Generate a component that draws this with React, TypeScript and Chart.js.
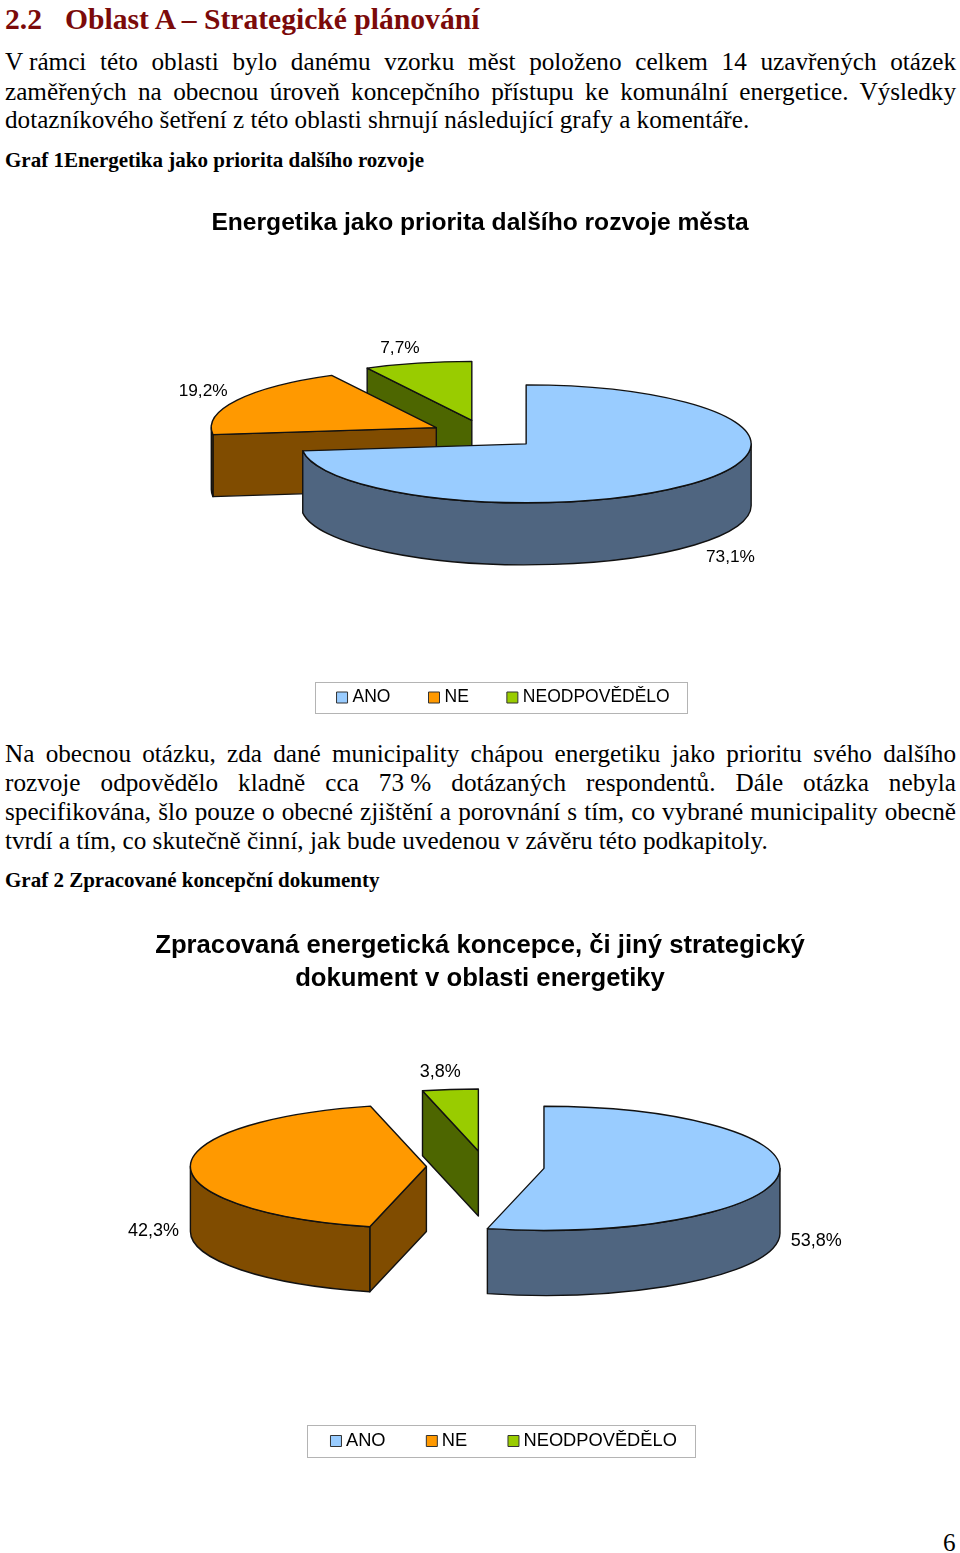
import { useEffect, useRef } from 'react';
import type { CSSProperties, ReactNode } from 'react';
import { Chart, registerables } from 'chart.js';

Chart.register(...registerables);

const categories = ['ANO', 'NE', 'NEODPOVĚDĚLO'];
const prioritaValues = [73.1, 19.2, 7.7];
const koncepceValues = [53.8, 42.3, 3.8];
const topColors = ['#99CCFF', '#FF9900', '#99CC00'];
const wallColors = ['#4F6580', '#804C00', '#4D6600'];

const SANS = '"Liberation Sans", Arial, sans-serif';
const SERIF = '"Liberation Serif", "Times New Roman", serif';

// fake 3D on top of a plain pie: slices are moved out, squashed and given walls
const pie3dPlugin = {
  id: 'pie3d',
  afterLayout(chart: any, _args: any, opts: any) {
    const legend = chart.legend;
    const { frame } = opts;
    const pad = legend.options.labels.padding;
    const h = legend.height;
    // keep the row on one line, only move its centre onto the frame
    const mid = frame.x + frame.w / 2 + opts.legendShift;
    legend.left = mid - chart.width / 2;
    legend.right = mid + chart.width / 2;
    legend.top = frame.y + frame.h / 2 - opts.legendFont / 2 - pad;
    legend.bottom = legend.top + h;
  },
  afterDatasetsUpdate(chart: any, _args: any, opts: any) {
    chart.getDatasetMeta(0).data.forEach((arc: any) => {
      const mid = (arc.startAngle + arc.endAngle) / 2;
      arc.x += Math.cos(mid) * opts.explode;
      arc.y += Math.sin(mid) * opts.explode;
    });
  },
  beforeDatasetsDraw(chart: any, _args: any, opts: any) {
    const ctx = chart.ctx;
    const arcs = chart.getDatasetMeta(0).data;
    const px = (arc: any) => arc.x - chart.width / 2 + opts.cx;
    const py = (arc: any) => (arc.y - chart.chartArea.top - chart.chartArea.height / 2) * opts.squash + opts.cy;

    ctx.save();
    ctx.lineWidth = opts.lineWidth;
    ctx.strokeStyle = opts.lineColor;
    ctx.lineJoin = 'round';
    // back to front, the side walls first
    for (let i = arcs.length - 1; i >= 0; i--) {
      const arc = arcs[i];
      const x = px(arc);
      const y = py(arc);
      const r = arc.outerRadius;
      const ry = r * opts.squash;
      ctx.fillStyle = wallColors[i];
      // only the cut that faces the viewer
      if (Math.sin(arc.startAngle + Math.PI / 2) < -0.001) {
        const ex = x + Math.cos(arc.startAngle) * r;
        const ey = y + Math.sin(arc.startAngle) * ry;
        ctx.beginPath();
        ctx.moveTo(x, y);
        ctx.lineTo(ex, ey);
        ctx.lineTo(ex, ey + opts.depth);
        ctx.lineTo(x, y + opts.depth);
        ctx.closePath();
        ctx.fill();
        ctx.stroke();
      }
      const from = Math.max(arc.startAngle, 0);
      const to = Math.min(arc.endAngle, Math.PI);
      if (to > from) {
        ctx.beginPath();
        ctx.ellipse(x, y, r, ry, 0, from, to);
        ctx.ellipse(x, y + opts.depth, r, ry, 0, to, from, true);
        ctx.closePath();
        ctx.fill();
        ctx.stroke();
      }
    }
    ctx.restore();

    // the library's own arcs come out squashed
    ctx.save();
    ctx.translate(opts.cx - chart.width / 2, opts.cy);
    ctx.scale(1, opts.squash);
    ctx.translate(0, -(chart.chartArea.top + chart.chartArea.height / 2));
  },
  afterDatasetsDraw(chart: any, _args: any, opts: any) {
    const ctx = chart.ctx;
    ctx.restore();
    const arcs = chart.getDatasetMeta(0).data;
    const values = chart.data.datasets[0].data;
    const dy = chart.chartArea.top + chart.chartArea.height / 2;

    ctx.save();
    ctx.lineWidth = opts.lineWidth;
    ctx.strokeStyle = opts.lineColor;
    ctx.lineJoin = 'round';
    arcs.forEach((arc: any, i: number) => {
      const x = arc.x - chart.width / 2 + opts.cx;
      const y = (arc.y - dy) * opts.squash + opts.cy;
      const r = arc.outerRadius;
      const ry = r * opts.squash;
      ctx.beginPath();
      ctx.moveTo(x, y);
      ctx.ellipse(x, y, r, ry, 0, arc.startAngle, arc.endAngle);
      ctx.closePath();
      ctx.stroke();

      // percentage label next to the rim
      const mid = (arc.startAngle + arc.endAngle) / 2;
      const [ox, oy] = opts.labelOffsets[i];
      ctx.fillStyle = '#000';
      ctx.font = `${opts.labelFont}px ${SANS}`;
      ctx.textAlign = 'center';
      ctx.textBaseline = 'middle';
      ctx.fillText(
        `${values[i].toFixed(1).replace('.', ',')}%`,
        x + Math.cos(mid) * r + ox,
        y + Math.sin(mid) * ry + oy,
      );
    });
    ctx.restore();
  },
  afterDraw(chart: any, _args: any, opts: any) {
    const ctx = chart.ctx;
    const { frame } = opts;
    ctx.save();
    ctx.strokeStyle = '#B4B4B4';
    ctx.lineWidth = 1;
    ctx.strokeRect(frame.x + 0.5, frame.y + 0.5, frame.w, frame.h);
    ctx.restore();
  },
};

interface PieProps {
  top: number;
  height: number;
  values: number[];
  title: string | string[];
  titleSize: number;
  titleTop: number;
  titlePitch: number;
  pie: Record<string, unknown>;
  legendGap: number;
  legendBox: number;
}

function Pie3D({ top, height, values, title, titleSize, titleTop, titlePitch, pie, legendGap, legendBox }: PieProps) {
  const canvasRef = useRef<HTMLCanvasElement>(null);

  useEffect(() => {
    if (!canvasRef.current) return;
    const legendFont = pie.legendFont as number;
    const chart = new Chart(canvasRef.current, {
      type: 'pie',
      data: {
        labels: categories,
        datasets: [{ data: values, backgroundColor: topColors, borderWidth: 0, clip: false } as any],
      },
      plugins: [pie3dPlugin],
      options: {
        responsive: false,
        animation: false,
        radius: pie.radius as number,
        plugins: {
          title: {
            display: true,
            text: title,
            color: '#000',
            padding: { top: titleTop, bottom: 0 },
            font: { family: SANS, size: titleSize, weight: 'bold', lineHeight: titlePitch / titleSize },
          },
          legend: {
            position: 'bottom',
            labels: {
              color: '#000',
              font: { family: SANS, size: legendFont },
              usePointStyle: true,
              pointStyle: 'rect',
              boxWidth: legendBox,
              boxHeight: 11,
              padding: legendGap,
              generateLabels: (c: any) =>
                (Chart as any).overrides.doughnut.plugins.legend.labels
                  .generateLabels(c)
                  .map((item: any) => ({ ...item, strokeStyle: '#333', lineWidth: 1 })),
            },
          },
          tooltip: { enabled: false },
          pie3d: pie,
        },
      } as any,
    });
    return () => chart.destroy();
  }, []);

  return (
    <canvas
      ref={canvasRef}
      width={960}
      height={height}
      style={{ position: 'absolute', left: 0, top, width: 960, height }}
    />
  );
}

function Line({ top, size = 25.2, justify = true, bold = false, children, style }: {
  top: number;
  size?: number;
  justify?: boolean;
  bold?: boolean;
  children: ReactNode;
  style?: CSSProperties;
}) {
  return (
    <div
      style={{
        position: 'absolute',
        left: 5,
        width: 951,
        top,
        height: 30,
        lineHeight: '30px',
        fontSize: size,
        fontFamily: SERIF,
        fontWeight: bold ? 'bold' : 'normal',
        color: '#000',
        whiteSpace: justify ? 'normal' : 'nowrap',
        textAlign: justify ? 'justify' : 'left',
        textAlignLast: justify ? 'justify' : 'left',
        ...style,
      }}
    >
      {children}
    </div>
  );
}

const Tight = ({ children }: { children: ReactNode }) => (
  <span style={{ display: 'inline-block', whiteSpace: 'pre' }}>{children}</span>
);

export default function App() {
  return (
    <div style={{ position: 'absolute', left: 0, top: 0, width: 960, height: 1553, overflow: 'hidden', background: '#fff' }}>
      <Line top={4} size={29.6} justify={false} bold style={{ color: '#7B0A0A' }}>2.2</Line>
      <Line top={4} size={29.6} justify={false} bold style={{ color: '#7B0A0A', left: 65 }}>Oblast A – Strategické plánování</Line>

      <Line top={47}><Tight>V rámci</Tight> této oblasti bylo danému vzorku měst položeno celkem 14 uzavřených otázek</Line>
      <Line top={77}>zaměřených na obecnou úroveň koncepčního přístupu ke komunální energetice. Výsledky</Line>
      <Line top={105} justify={false}>dotazníkového šetření z této oblasti shrnují následující grafy a komentáře.</Line>
      <Line top={145} size={21} justify={false} bold>Graf 1Energetika jako priorita dalšího rozvoje</Line>

      <Pie3D
        top={190}
        height={535}
        values={prioritaValues}
        title="Energetika jako priorita dalšího rozvoje města"
        titleSize={24.6}
        titleTop={17}
        titlePitch={32}
        legendGap={41.8}
        legendBox={3.5}
        pie={{
          radius: 225,
          explode: 55,
          squash: 0.262,
          depth: 62,
          cx: 485,
          cy: 244.3,
          lineWidth: 1.4,
          lineColor: '#111',
          labelFont: 17.3,
          legendFont: 17.5,
          legendShift: 4,
          labelOffsets: [[36, 74.2], [-34, -8.8], [-18, -14.8]],
          frame: { x: 315, y: 492, w: 372, h: 31 },
        }}
      />

      <Line top={739}>Na obecnou otázku, zda dané municipality chápou energetiku jako prioritu svého dalšího</Line>
      <Line top={768}>rozvoje odpovědělo kladně cca <Tight>73 %</Tight> dotázaných respondentů. Dále otázka nebyla</Line>
      <Line top={797}>specifikována, šlo pouze o obecné zjištění a porovnání s tím, co vybrané municipality obecně</Line>
      <Line top={826} justify={false}>tvrdí a tím, co skutečně činní, jak bude uvedenou v závěru této podkapitoly.</Line>
      <Line top={865} size={21} justify={false} bold>Graf 2 Zpracované koncepční dokumenty</Line>

      <Pie3D
        top={915}
        height={555}
        values={koncepceValues}
        title={['Zpracovaná energetická koncepce, či jiný strategický', 'dokument v oblasti energetiky']}
        titleSize={25.7}
        titleTop={14}
        titlePitch={33}
        legendGap={45.4}
        legendBox={1.7}
        pie={{
          radius: 236,
          explode: 59,
          squash: 0.263,
          depth: 65,
          cx: 485.4,
          cy: 251.5,
          lineWidth: 1.4,
          lineColor: '#111',
          labelFont: 18,
          legendFont: 18.3,
          legendShift: 5,
          labelOffsets: [[38, 65.5], [-37, 65], [-10, -17]],
          frame: { x: 307, y: 510, w: 388, h: 32 },
        }}
      />

      <Line top={1528} justify={false} style={{ left: 943 }}>6</Line>
    </div>
  );
}
